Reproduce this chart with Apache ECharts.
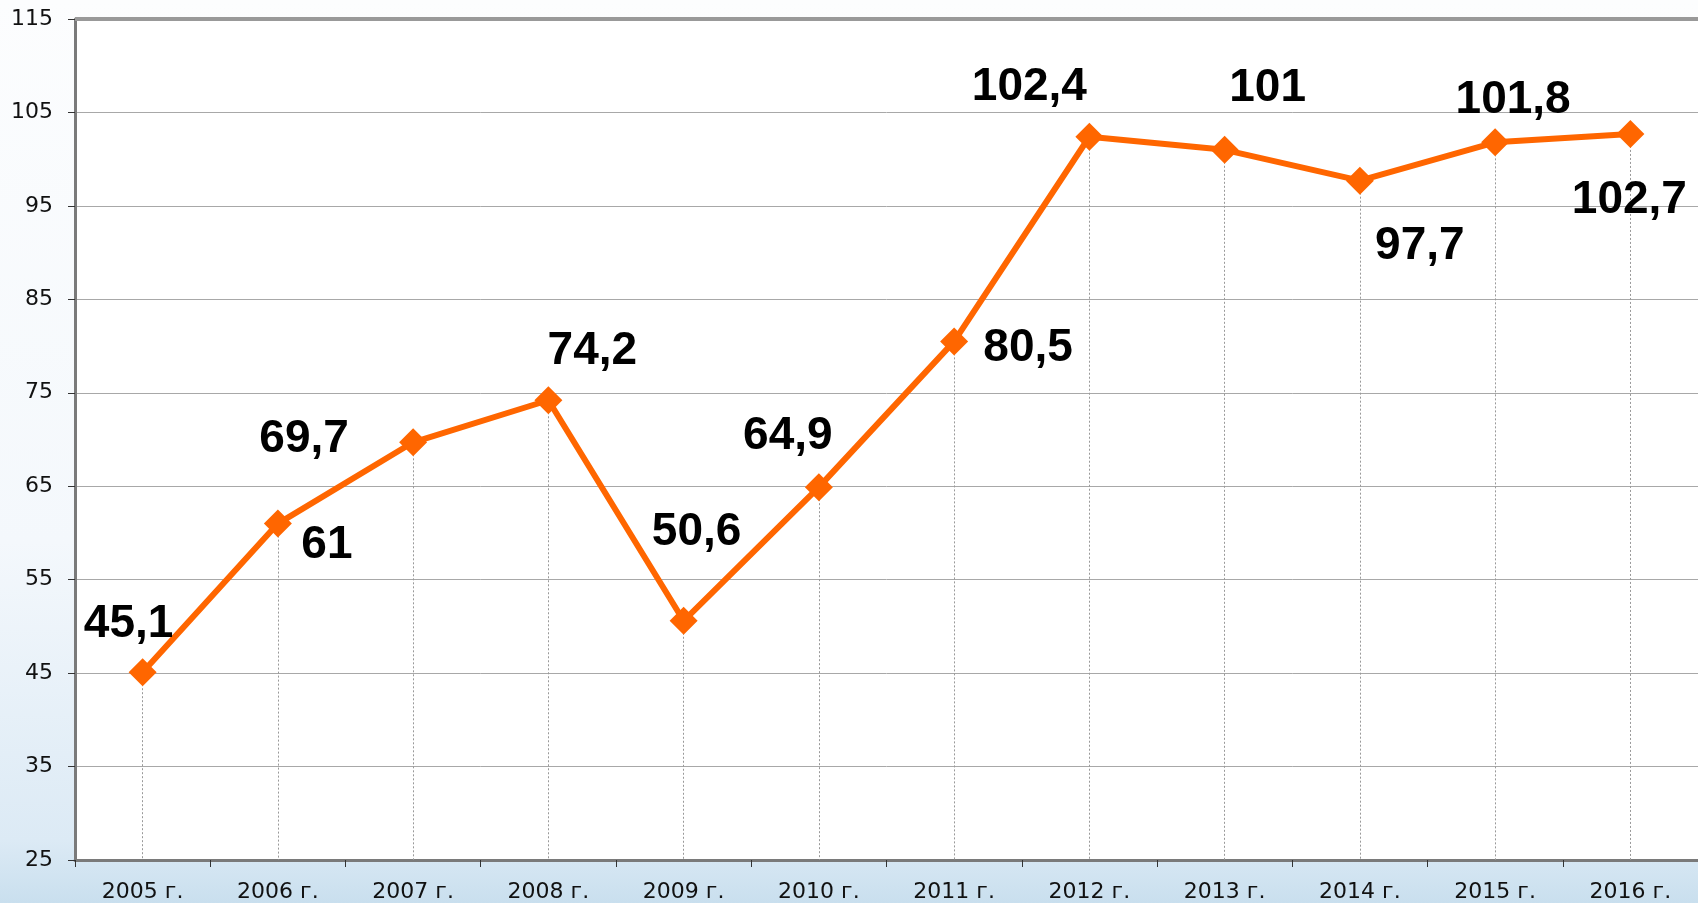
<!DOCTYPE html>
<html>
<head>
<meta charset="utf-8">
<script src="https://cdn.jsdelivr.net/npm/echarts@6/dist/echarts.min.js"></script>
<style>
html,body{margin:0;padding:0;}
#chart{width:1698px;height:903px;background:linear-gradient(180deg,#fcfdfe 0%,#f4f8fc 60%,#dceaf5 93%,#c9dfee 100%);}
</style>
</head>
<body>
<div id="chart"></div>
<script>
const categories = ['2005 г.','2006 г.','2007 г.','2008 г.','2009 г.','2010 г.','2011 г.','2012 г.','2013 г.','2014 г.','2015 г.','2016 г.'];
const values = [45.1, 61, 69.7, 74.2, 50.6, 64.9, 80.5, 102.4, 101, 97.7, 101.8, 102.7];
const yMin = 25, yMax = 115, yStep = 10;

// label placement offsets (px) relative to each point
const labelOffsets = [[-14,-48],[49,22],[-109,-3],[44,-49],[13,-88],[-31,-51],[74,7],[-60,-49],[43,-62],[60,66],[18,-42],[-1,66]];

const fmt = v => String(v).replace('.', ',');

const chart = echarts.init(document.getElementById('chart'), null, {renderer:'canvas'});
const seriesData = values.map((v,i) => ({
  value: v,
  label: { offset: labelOffsets[i] }
}));
const dropLines = values.map((v,i) => [
  { coord: [categories[i], v] },
  { coord: [categories[i], yMin] }
]);

chart.setOption({
  backgroundColor: 'transparent',
  animation: false,
  grid: {
    left: 75, top: 19, width: 1628, bottom: 43,
    show: true, backgroundColor: '#ffffff', borderWidth: 0
  },
  xAxis: {
    type: 'category',
    data: categories,
    boundaryGap: true,
    axisLine: { show: true, lineStyle: { color: '#7a7a7a', width: 3 } },
    axisTick: { show: true, length: 7, lineStyle: { color: '#333', width: 1 } },
    axisLabel: { color: '#111', fontSize: 22, fontFamily: 'DejaVu Sans, sans-serif', margin: 21 },
    splitLine: { show: false }
  },
  yAxis: {
    type: 'value',
    min: yMin, max: yMax, interval: yStep,
    axisLine: { show: true, lineStyle: { color: '#7a7a7a', width: 3 } },
    axisTick: { show: true, length: 7, lineStyle: { color: '#333', width: 1 } },
    axisLabel: { color: '#111', fontSize: 22, fontFamily: 'DejaVu Sans, sans-serif', margin: 22 },
    splitLine: { show: true, lineStyle: { color: '#a8a8a8', width: 1 } }
  },
  graphic: [],
  series: [
    {
      type: 'line',
      data: values,
      symbol: 'none',
      lineStyle: { opacity: 0 },
      silent: true,
      z: 1,
      markLine: {
        silent: true,
        symbol: ['none','none'],
        label: { show: false },
        lineStyle: { color: '#999999', type: [2,2], width: 1 },
        data: dropLines
      }
    },
    {
      type: 'line',
      data: seriesData,
      z: 5,
      symbol: 'diamond',
      symbolSize: 28,
      itemStyle: { color: '#ff6600' },
      lineStyle: { color: '#ff6600', width: 6 },
      label: {
        show: true,
        position: 'inside',
        align: 'center',
        verticalAlign: 'middle',
        formatter: p => fmt(p.value),
        color: '#000',
        fontSize: 46,
        fontWeight: 'bold',
        fontFamily: 'Liberation Sans, Arial, sans-serif'
      }
    }
  ]
});

// top border of plot area
const topY = chart.convertToPixel({yAxisIndex:0}, yMax);
chart.setOption({
  graphic: [{
    type: 'line', z: 10,
    shape: { x1: 75, y1: topY, x2: 1698, y2: topY },
    style: { stroke: '#999999', lineWidth: 4 }
  }]
});
</script>
</body>
</html>
